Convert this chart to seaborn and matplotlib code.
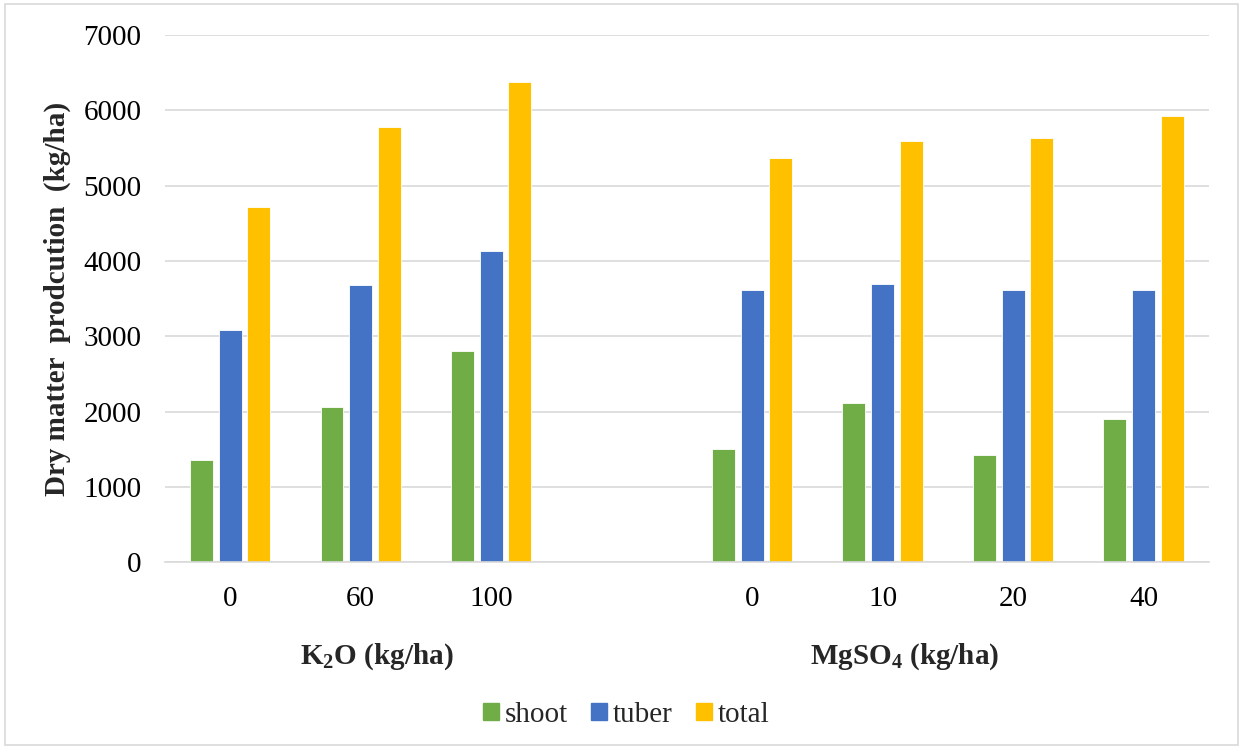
import matplotlib
matplotlib.use("Agg")
import matplotlib.pyplot as plt
from matplotlib.patches import Rectangle
import pandas as pd
import seaborn as sns

# Treatment levels (K2O doses, a spacer slot, then MgSO4 doses)
slot_keys = ["K0", "K60", "K100", "gap", "Mg0", "Mg10", "Mg20", "Mg40"]
tick_labels = ["0", "60", "100", "", "0", "10", "20", "40"]
treatments = ["K0", "K60", "K100", "Mg0", "Mg10", "Mg20", "Mg40"]

# Dry matter production (kg/ha)
shoot = [1360, 2060, 2810, 1500, 2110, 1430, 1910]
tuber = [3090, 3680, 4140, 3610, 3700, 3610, 3610]
total = [4720, 5780, 6370, 5370, 5590, 5630, 5920]

parts = ["shoot", "tuber", "total"]
colors = ["#70AD47", "#4472C4", "#FFC000"]

rows = []
for name, vals in zip(parts, [shoot, tuber, total]):
    for t, v in zip(treatments, vals):
        rows.append({"treatment": t, "part": name, "value": v})
df = pd.DataFrame(rows)

sns.set_theme(style="white")
plt.rcParams["font.family"] = ["Liberation Serif", "DejaVu Serif"]
plt.rcParams["mathtext.fontset"] = "custom"
plt.rcParams["mathtext.rm"] = "Liberation Serif:bold"
plt.rcParams["mathtext.bf"] = "Liberation Serif:bold"
plt.rcParams["mathtext.it"] = "Liberation Serif:bold"
plt.rcParams["mathtext.default"] = "rm"

FS = 21

fig = plt.figure(figsize=(12.43, 7.49), dpi=100)
ax = fig.add_axes([0.1327, 0.249, 0.8399, 0.7043])

sns.barplot(data=df, x="treatment", y="value", hue="part", order=slot_keys,
            hue_order=parts, palette=colors, saturation=1, width=0.66, gap=0.2,
            edgecolor="white", linewidth=0.6, errorbar=None, ax=ax)

ax.set_ylim(0, 7000)
ax.set_yticks(range(0, 7001, 1000))
ax.set_xlim(-0.5, len(slot_keys) - 0.5)
ax.set_xticks(range(len(slot_keys)))
ax.set_xticklabels(tick_labels)
ax.tick_params(axis="both", length=0, labelsize=FS, colors="black")
ax.tick_params(axis="y", pad=17)
ax.tick_params(axis="x", pad=17)
ax.yaxis.grid(True, color="#D9D9D9", linewidth=1.2)
ax.set_axisbelow(True)
for side in ["top", "right", "left"]:
    ax.spines[side].set_visible(False)
ax.spines["bottom"].set_color("#D9D9D9")
ax.spines["bottom"].set_linewidth(1.2)

ax.set_xlabel("")
ax.set_ylabel("Dry matter  prodcution  (kg/ha)", fontsize=FS, fontweight="bold")
ax.yaxis.set_label_coords(-0.09, 0.5)

# Group captions below the dose labels
trans = ax.get_xaxis_transform()
ax.text(1.12, -0.178, r"$\mathrm{K_2O}$ (kg/ha)", transform=trans, ha="center",
        va="center", fontsize=FS, fontweight="bold")
ax.text(5.17, -0.178, r"$\mathrm{MgSO_4}$ (kg/ha)", transform=trans, ha="center",
        va="center", fontsize=FS, fontweight="bold")

ax.legend_.remove()
handles = [Rectangle((0, 0), 1, 1, color=c) for c in colors]
fig.legend(handles, parts, loc="center", bbox_to_anchor=(626 / 1243, 1 - 715 / 749),
           ncol=3, frameon=False, fontsize=FS, handlelength=0.55, handleheight=0.55,
           handletextpad=0.2, columnspacing=0.8)

# Outer chart border
fig.patches.append(Rectangle((5 / 1243, 4 / 749), 1 - 10 / 1243, 1 - 8 / 749,
                             transform=fig.transFigure, fill=False,
                             edgecolor="#D9D9D9", linewidth=1.2))

fig.savefig("out.png", dpi=100, facecolor="white")
